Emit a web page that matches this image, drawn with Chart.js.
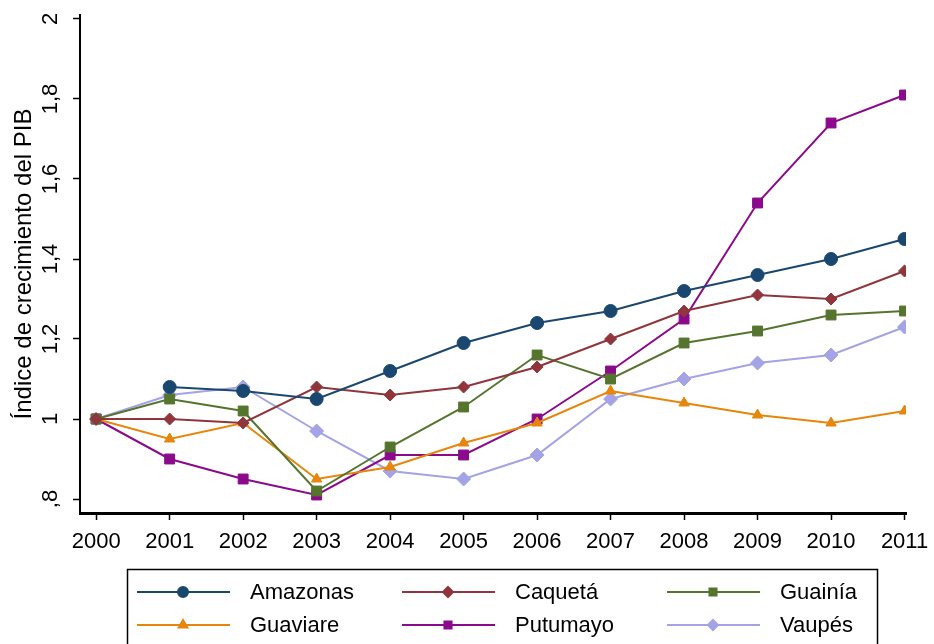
<!DOCTYPE html>
<html>
<head>
<meta charset="utf-8">
<title>Índice de crecimiento del PIB</title>
<script src="https://cdn.jsdelivr.net/npm/chart.js@4.4.0/dist/chart.umd.min.js"></script>
<style>
    html, body { margin: 0; padding: 0; background: #ffffff; }
    #wrap { width: 934px; height: 644px; }
</style>
</head>
<body>
<div id="wrap"><canvas id="pibChart" width="934" height="644"></canvas></div>
<script>
// Data
const years = [2000, 2001, 2002, 2003, 2004, 2005, 2006, 2007, 2008, 2009, 2010, 2011];
const yTicks = [0.8, 1, 1.2, 1.4, 1.6, 1.8, 2];
const yTickLabels = [',8', '1', '1,2', '1,4', '1,6', '1,8', '2'];

const amazonas = [null, 1.08, 1.07, 1.05, 1.12, 1.19, 1.24, 1.27, 1.32, 1.36, 1.40, 1.45];
const caqueta  = [1.00, 1.00, 0.99, 1.08, 1.06, 1.08, 1.13, 1.20, 1.27, 1.31, 1.30, 1.37];
const guainia  = [1.00, 1.05, 1.02, 0.82, 0.93, 1.03, 1.16, 1.10, 1.19, 1.22, 1.26, 1.27];
const guaviare = [1.00, 0.95, 0.99, 0.85, 0.88, 0.94, 0.99, 1.07, 1.04, 1.01, 0.99, 1.02];
const putumayo = [1.00, 0.90, 0.85, 0.81, 0.91, 0.91, 1.00, 1.12, 1.25, 1.54, 1.74, 1.81];
const vaupes   = [1.00, 1.06, 1.08, 0.97, 0.87, 0.85, 0.91, 1.05, 1.10, 1.14, 1.16, 1.23];

const FONT = 'Liberation Sans, Arial, sans-serif';

function toPoints(values) {
    return values.map((v, i) => ({ x: years[i], y: v }));
}

function makeSeries(label, values, color, style, radius) {
    return {
        label: label,
        data: toPoints(values),
        borderColor: color,
        backgroundColor: color,
        pointBackgroundColor: color,
        pointBorderColor: color,
        borderWidth: 2,
        pointStyle: style,
        pointRadius: radius,
        pointHoverRadius: radius,
        pointBorderWidth: 1,
        tension: 0,
        fill: false
    };
}

// keep the plot area where the reference has it, whatever the label sizes
function noScalePadding(scale) {
    scale.paddingLeft = 0;
    scale.paddingRight = 0;
    scale.paddingTop = 0;
    scale.paddingBottom = 0;
}

// Stata style legend: line with marker, 3 columns in a framed box
const legendBox = {
    id: 'legendBox',
    afterDraw(chart) {
        const ctx = chart.ctx;
        ctx.save();
        ctx.strokeStyle = '#000000';
        ctx.lineWidth = 1.5;
        ctx.strokeRect(127.5, 569.5, 750, 90);
        ctx.font = '22px ' + FONT;
        ctx.textBaseline = 'middle';
        ctx.textAlign = 'left';
        chart.data.datasets.forEach(function(ds, i) {
            const col = i % 3;
            const row = Math.floor(i / 3);
            const x0 = 137 + col * 265;
            const y0 = 592 + row * 33;
            ctx.strokeStyle = ds.borderColor;
            ctx.fillStyle = ds.borderColor;
            ctx.lineWidth = 2;
            ctx.beginPath();
            ctx.moveTo(x0, y0);
            ctx.lineTo(x0 + 93, y0);
            ctx.stroke();
            if (Chart.helpers && Chart.helpers.drawPoint) {
                Chart.helpers.drawPoint(ctx, { pointStyle: ds.pointStyle, radius: 5, borderWidth: 1, rotation: 0 }, x0 + 46, y0);
            }
            ctx.fillStyle = '#000000';
            ctx.fillText(ds.label, x0 + 113, y0 + 1);
        });
        ctx.restore();
    }
};

document.addEventListener('DOMContentLoaded', function() {
    const ctx = document.getElementById('pibChart').getContext('2d');
    new Chart(ctx, {
        type: 'line',
        data: {
            datasets: [
                makeSeries('Amazonas', amazonas, '#1a476f', 'circle', 6.5),
                makeSeries('Caquetá', caqueta, '#90353b', 'rectRot', 6),
                makeSeries('Guainía', guainia, '#55752f', 'rect', 7),
                makeSeries('Guaviare', guaviare, '#e8850c', 'triangle', 6),
                makeSeries('Putumayo', putumayo, '#8b0a8b', 'rect', 7),
                makeSeries('Vaupés', vaupes, '#a3a3e6', 'rectRot', 7)
            ]
        },
        options: {
            responsive: false,
            animation: false,
            devicePixelRatio: 1,
            layout: { padding: { left: 0, right: 28, top: 15, bottom: 0 } },
            plugins: {
                legend: { display: false },
                tooltip: { enabled: false }
            },
            scales: {
                x: {
                    type: 'linear',
                    min: 1999.78,
                    max: 2011.02,
                    afterBuildTicks: function(scale) {
                        scale.ticks = years.map(v => ({ value: v }));
                    },
                    afterFit: function(scale) {
                        scale.height = 644 - 513;
                        noScalePadding(scale);
                    },
                    border: { display: true, color: '#000000', width: 3 },
                    grid: { display: true, drawOnChartArea: false, drawTicks: true, tickLength: 7, color: '#000000', tickWidth: 1.5 },
                    ticks: {
                        color: '#000000',
                        font: { family: FONT, size: 22 },
                        padding: 9,
                        maxRotation: 0,
                        autoSkip: false,
                        callback: v => String(v)
                    }
                },
                y: {
                    type: 'linear',
                    min: 0.765,
                    max: 2.01,
                    afterBuildTicks: function(scale) {
                        scale.ticks = yTicks.map(v => ({ value: v }));
                    },
                    afterFit: function(scale) {
                        scale.width = 80;
                        noScalePadding(scale);
                    },
                    border: { display: true, color: '#000000', width: 2 },
                    grid: { display: true, drawOnChartArea: false, drawTicks: true, tickLength: 7, color: '#000000', tickWidth: 1.5 },
                    title: {
                        display: true,
                        text: 'Índice de crecimiento del PIB',
                        color: '#000000',
                        font: { family: FONT, size: 24 },
                        padding: { top: 10, bottom: 0 }
                    },
                    ticks: {
                        color: '#000000',
                        font: { family: FONT, size: 22 },
                        padding: 7,
                        minRotation: 90,
                        maxRotation: 90,
                        crossAlign: 'center',
                        autoSkip: false,
                        callback: function(v) {
                            const i = yTicks.indexOf(v);
                            return i >= 0 ? yTickLabels[i] : '';
                        }
                    }
                }
            }
        },
        plugins: [legendBox]
    });
});
</script>
</body>
</html>
